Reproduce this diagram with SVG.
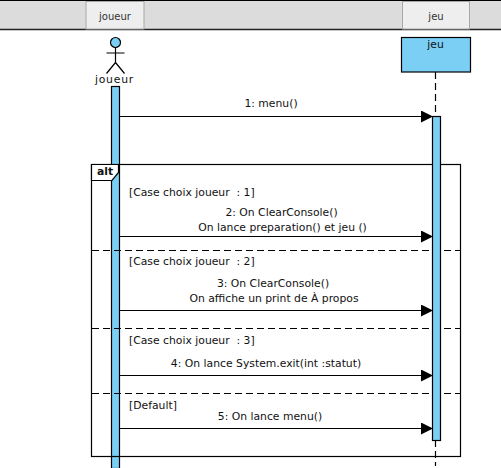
<svg xmlns="http://www.w3.org/2000/svg" width="501" height="468" viewBox="0 0 501 468">
<style>
text{font-family:"DejaVu Sans",sans-serif;font-size:10.8px;fill:#111;text-anchor:middle;white-space:pre}
.l{text-anchor:start}
.ln{stroke:#000;stroke-width:1.2;fill:none}
.d{stroke:#000;stroke-width:1.2;stroke-dasharray:7 4;fill:none}
.box{fill:#7bcff5;stroke:#000;stroke-width:1.2}
.tab{fill:#eeeeee;stroke:#a8a8a8;stroke-width:1}
.tabtext{font-size:10px;fill:#333}
</style>
<defs><marker id="a" markerUnits="userSpaceOnUse" markerWidth="13" markerHeight="12" refX="12" refY="6" orient="auto"><path d="M0 0L12 6L0 12Z" fill="#000"/></marker></defs>
<rect width="501" height="468" fill="#fff"/>
<g id="header">
<rect x="0" y="0" width="501" height="29.500" fill="#dcdcdc"/>
<path d="M0 .5H501" stroke="#000"/>
<path d="M0 29.500H501" stroke="#222" stroke-width="1.500"/>
</g>
<g id="tab-joueur"><rect class="tab" x="86" y="1.500" width="58" height="27.500"/><text class="tabtext" x="115" y="20">joueur</text></g>
<g id="tab-jeu"><rect class="tab" x="402.500" y="1.500" width="67" height="27.500"/><text class="tabtext" x="436" y="20">jeu</text></g>
<g id="lifeline-joueur">
<circle class="box" cx="115.500" cy="42.500" r="5"/>
<path class="ln" d="M115.500 47.500V62.500M106.500 53H124.500M115.500 62.500L106.500 73.500M115.500 62.500L124.500 73.500"/>
<text x="114.500" y="83" style="letter-spacing:.8px">joueur</text>
<rect class="box" x="111.500" y="86.500" width="8" height="382"/>
</g>
<g id="fragment-alt">
<rect class="ln" x="91.500" y="164.500" width="369" height="292"/>
<path d="M91.500 164.500H118.500V172.500L112 180.500H91.500Z" style="fill:#fff;stroke:#000;stroke-width:1.200"/>
<text x="105" y="175" style="font-weight:bold">alt</text>
<path class="d" d="M92 250.500H460M92 328.500H460M92 393.500H460"/>
<text class="l" x="129" y="196">[Case choix joueur  : 1]</text>
<text class="l" x="129" y="265">[Case choix joueur  : 2]</text>
<text class="l" x="129" y="344">[Case choix joueur  : 3]</text>
<text class="l" x="129" y="409">[Default]</text>
</g>
<g id="lifeline-jeu">
<rect class="box" x="401.500" y="37.500" width="69" height="34.500"/>
<text x="435.500" y="47.500">jeu</text>
<path class="d" d="M435.500 72V116M435.500 440V466"/>
<rect class="box" x="432.500" y="116.500" width="8" height="324"/>
</g>
<g id="connectors">
<path class="ln" marker-end="url(#a)" d="M120 116.500H433"/>
<path class="ln" marker-end="url(#a)" d="M120 236.500H433"/>
<path class="ln" marker-end="url(#a)" d="M120 310.500H433"/>
<path class="ln" marker-end="url(#a)" d="M120 375.500H433"/>
<path class="ln" marker-end="url(#a)" d="M120 428.500H433"/>
</g>
<g id="labels">
<text x="271" y="107">1: menu()</text>
<text x="281.500" y="216">2: On ClearConsole()</text>
<text x="282.500" y="231">On lance preparation() et jeu ()</text>
<text x="273" y="287">3: On ClearConsole()</text>
<text x="274" y="302">On affiche un print de À propos</text>
<text x="266" y="367">4: On lance System.exit(int :statut)</text>
<text x="270" y="420">5: On lance menu()</text>
</g>
</svg>
